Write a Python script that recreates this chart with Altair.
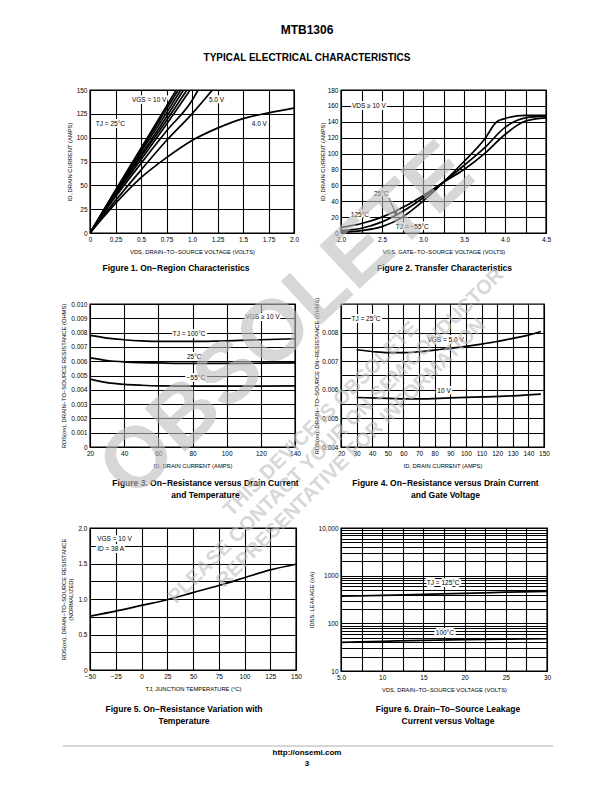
import altair as alt
import pandas as pd

FONT = "Liberation Sans, Arial, Helvetica, sans-serif"

header_title = "MTB1306"
header_sub = "TYPICAL ELECTRICAL CHARACTERISTICS"
footer_url = "http://onsemi.com"
footer_page = "3"
wm_big = "OBSOLETE"
wm_lines = ["THIS DEVICE IS OBSOLETE", "PLEASE CONTACT YOUR ON SEMICONDUCTOR",
            "REPRESENTATIVE FOR INFORMATION"]

# ---------------- Figure 1: On-Region Characteristics ----------------
f1_names = ["10 V", "9 V", "8 V", "7 V", "6.5 V", "6 V", "5.5 V", "5.0 V", "4.0 V"]
f1_vds_10 = [0, 0.25, 0.5, 0.75, 0.845]
f1_id_10 = [0, 45, 89, 133, 150]
f1_vds_9 = [0, 0.25, 0.5, 0.75, 0.865]
f1_id_9 = [0, 44, 87, 130, 150]
f1_vds_8 = [0, 0.25, 0.5, 0.75, 0.89]
f1_id_8 = [0, 43, 85, 126, 150]
f1_vds_7 = [0, 0.25, 0.5, 0.75, 0.917]
f1_id_7 = [0, 42, 82, 122, 150]
f1_vds_65 = [0, 0.25, 0.5, 0.75, 0.95]
f1_id_65 = [0, 41, 80, 118, 150]
f1_vds_6 = [0, 0.25, 0.5, 0.75, 0.982]
f1_id_6 = [0, 40, 77, 114, 150]
f1_vds_55 = [0, 0.25, 0.5, 0.75, 1.0, 1.06]
f1_id_55 = [0, 38, 73, 107, 139, 150]
f1_vds_5 = [0, 0.25, 0.5, 0.75, 1.0, 1.2]
f1_id_5 = [0, 34, 66, 97, 125, 150]
f1_vds_4 = [0, 0.25, 0.5, 0.75, 1.0, 1.25, 1.5, 1.75, 2.0]
f1_id_4 = [0, 31, 58, 79, 97, 110, 120, 126, 131]
f1_lab_text = ["VGS = 10 V", "5.0 V", "4.0 V", "TJ = 25°C"]
f1_lab_x = [0.58, 1.24, 1.66, 0.2]
f1_lab_y = [140, 140, 114, 114]

# ---------------- Figure 2: Transfer Characteristics ----------------
f2_names = ["TJ = -55°C", "25°C", "125°C"]
f2_vgs_m55 = [2.0, 2.25, 2.5, 2.75, 3.0, 3.25, 3.5, 3.75, 3.9, 4.0, 4.25, 4.5]
f2_id_m55 = [1, 3, 8, 20, 40, 64, 90, 118, 140, 144, 148, 148]
f2_vgs_25 = [2.0, 2.25, 2.5, 2.75, 3.0, 3.25, 3.5, 3.75, 4.0, 4.25, 4.5]
f2_id_25 = [3, 6, 14, 27, 44, 64, 85, 107, 133, 145, 147]
f2_vgs_125 = [2.0, 2.25, 2.5, 2.75, 3.0, 3.25, 3.5, 3.75, 4.0, 4.25, 4.5]
f2_id_125 = [7, 12, 20, 32, 47, 64, 80, 100, 124, 141, 145]
f2_lab_text = ["VDS ≥ 10 V", "25°C", "125°C", "TJ = −55°C"]
f2_lab_x = [2.34, 2.49, 2.23, 2.87]
f2_lab_y = [160, 49, 22.6, 7.5]
f2_arrow_x = [2.585, 2.665]
f2_arrow_y = [44, 25]

# ---------------- Figure 3: RDS(on) vs ID and temperature ----------------
f3_names = ["100°C", "25°C", "-55°C"]
f3_id = [20, 30, 40, 50, 60, 80, 100, 120, 140]
f3_r_100 = [0.0078, 0.00762, 0.0075, 0.00742, 0.00738, 0.00738, 0.00742, 0.0075, 0.00757]
f3_r_25 = [0.00623, 0.00605, 0.00595, 0.0059, 0.00588, 0.00585, 0.00585, 0.00586, 0.00588]
f3_r_m55 = [0.00475, 0.0045, 0.00438, 0.00432, 0.00428, 0.00426, 0.00426, 0.00426, 0.00427]
f3_lab_text = ["VGS ≥ 10 V", "TJ = 100°C", "25°C", "−55°C"]
f3_lab_x = [121, 78, 81, 82]
f3_lab_y = [0.0091, 0.0079, 0.0063, 0.0048]

# ---------------- Figure 4: RDS(on) vs ID and gate voltage ----------------
f4_names = ["VGS = 5.0 V", "10 V"]
f4_id_5 = [30, 40, 50, 60, 70, 80, 90, 100, 110, 120, 130, 140, 148]
f4_r_5 = [0.0074, 0.00734, 0.0073, 0.0073, 0.00733, 0.00739, 0.00745, 0.00752,
          0.0076, 0.00769, 0.0078, 0.00791, 0.00804]
f4_id_10 = [30, 50, 70, 90, 110, 130, 148]
f4_r_10 = [0.00573, 0.0057, 0.00568, 0.00572, 0.00575, 0.00579, 0.00585]
f4_lab_text = ["TJ = 25°C", "VGS = 5.0 V", "10 V"]
f4_lab_x = [36, 87, 86]
f4_lab_y = [0.00848, 0.00774, 0.00596]

# ---------------- Figure 5: RDS(on) vs temperature ----------------
f5_names = ["normalized"]
f5_t = [-50, -25, 0, 25, 50, 75, 100, 125, 150]
f5_r = [0.76, 0.83, 0.91, 0.99, 1.09, 1.19, 1.30, 1.41, 1.49]
f5_lab_text = ["VGS = 10 V", "ID = 38 A"]
f5_lab_x = [-43, -43]
f5_lab_y = [1.845, 1.70]

# ---------------- Figure 6: IDSS leakage ----------------
f6_names = ["TJ = 125°C", "100°C"]
f6_vds = [5, 10, 15, 20, 25, 30]
f6_i_125 = [370, 385, 405, 425, 450, 470]
f6_i_100 = [40, 42, 44, 45.5, 46.5, 47.5]
f6_lab_text = ["TJ = 125°C", "100°C"]
f6_lab_x = [17.4, 17.6]
f6_lab_y = [700, 63]


def mk(names, xs, ys):
    rows = []
    for n, xx, yy in zip(names, xs, ys):
        for a, b in zip(xx, yy):
            rows.append({"s": n, "x": a, "y": b})
    return pd.DataFrame(rows)


def mk_lab(texts, xs, ys):
    return pd.DataFrame({"t": texts, "x": xs, "y": ys})


def axis(title, values, expr=None, **kw):
    args = dict(title=title, values=values)
    if expr is not None:
        args["labelExpr"] = expr
    args.update(kw)
    return alt.Axis(**args)


def panel(df, lab, xs, ys, xax, yax, w, h, caption, cap_dx, cap_off, align="center", extra=None):
    xenc = alt.X("x:Q", scale=xs, axis=xax)
    yenc = alt.Y("y:Q", scale=ys, axis=yax)
    halo = alt.Chart(lab).mark_text(align=align, baseline="middle", font=FONT, fontSize=6.5,
                                    stroke="white", strokeWidth=4, fill="white",
                                    strokeJoin="round").encode(x=xenc, y=yenc, text="t:N")
    lines = alt.Chart(df).mark_line(color="black", strokeWidth=1.7, interpolate="monotone",
                                    clip=True).encode(x=xenc, y=yenc, detail="s:N")
    txt = alt.Chart(lab).mark_text(align=align, baseline="middle", font=FONT, fontSize=6.5,
                                   color="black").encode(x=xenc, y=yenc, text="t:N")
    layers = [halo, lines, txt]
    if extra is not None:
        layers += extra(xenc, yenc)
    return alt.layer(*layers).properties(
        width=w, height=h,
        title=alt.Title(caption, orient="bottom", anchor="middle", frame="group",
                        font=FONT, fontSize=8.5, fontWeight="bold", color="black",
                        dx=cap_dx, offset=cap_off, lineHeight=12),
        view=alt.ViewBackground(stroke="black", strokeWidth=1.4),
    )


# ----- Panel 1
p1_df = mk(f1_names,
           [f1_vds_10, f1_vds_9, f1_vds_8, f1_vds_7, f1_vds_65, f1_vds_6, f1_vds_55, f1_vds_5, f1_vds_4],
           [f1_id_10, f1_id_9, f1_id_8, f1_id_7, f1_id_65, f1_id_6, f1_id_55, f1_id_5, f1_id_4])
p1 = panel(
    p1_df, mk_lab(f1_lab_text, f1_lab_x, f1_lab_y),
    alt.Scale(domain=[0, 2], nice=False, zero=False),
    alt.Scale(domain=[0, 150], nice=False, zero=False),
    axis("VDS, DRAIN−TO−SOURCE VOLTAGE (VOLTS)", [i * 0.25 for i in range(9)],
         "datum.value == 0 ? '0' : (round(datum.value*100) % 50 == 0 ? format(datum.value, '.1f') : format(datum.value, '.2f'))"),
    axis("ID, DRAIN CURRENT (AMPS)", [i * 25 for i in range(7)]),
    204, 143, "Figure 1. On−Region Characteristics", -16, 10)

# ----- Panel 2
p2_df = mk(f2_names, [f2_vgs_m55, f2_vgs_25, f2_vgs_125], [f2_id_m55, f2_id_25, f2_id_125])


def p2_arrow(xenc, yenc):
    adf = pd.DataFrame({"x": [f2_arrow_x[0]], "y": [f2_arrow_y[0]],
                        "x2": [f2_arrow_x[1]], "y2": [f2_arrow_y[1]]})
    rule = alt.Chart(adf).mark_rule(color="black", strokeWidth=1).encode(
        x=xenc, y=yenc, x2="x2:Q", y2="y2:Q")
    hdf = pd.DataFrame({"x": [f2_arrow_x[1]], "y": [f2_arrow_y[1]]})
    head = alt.Chart(hdf).mark_point(shape="triangle", filled=True, color="black", size=22,
                                     angle=157, opacity=1).encode(x=xenc, y=yenc)
    return [rule, head]


p2 = panel(
    p2_df, mk_lab(f2_lab_text, f2_lab_x, f2_lab_y),
    alt.Scale(domain=[2, 4.5], nice=False, zero=False),
    alt.Scale(domain=[0, 180], nice=False, zero=False),
    axis("VGS, GATE−TO−SOURCE VOLTAGE (VOLTS)", [2 + i * 0.25 for i in range(11)],
         "round(datum.value*4) % 2 == 0 ? format(datum.value, '.1f') : ''"),
    axis("ID, DRAIN CURRENT (AMPS)", [i * 20 for i in range(10)], titlePadding=2),
    205, 143, "Figure 2. Transfer Characteristics", 1, 10, extra=p2_arrow)

# ----- Panel 3
p3_df = mk(f3_names, [f3_id, f3_id, f3_id], [f3_r_100, f3_r_25, f3_r_m55])
p3 = panel(
    p3_df, mk_lab(f3_lab_text, f3_lab_x, f3_lab_y),
    alt.Scale(domain=[20, 140], nice=False, zero=False),
    alt.Scale(domain=[0, 0.010], nice=False, zero=False),
    axis("ID, DRAIN CURRENT (AMPS)", [20 + i * 20 for i in range(7)]),
    axis("RDS(on), DRAIN−TO−SOURCE RESISTANCE (OHMS)", [i * 0.001 for i in range(11)],
         "datum.value == 0 ? '0' : format(datum.value, '.3f')"),
    205, 143, ["Figure 3. On−Resistance versus Drain Current", "and Temperature"], 13, 11)

# ----- Panel 4
p4_df = mk(f4_names, [f4_id_5, f4_id_10], [f4_r_5, f4_r_10])
p4 = panel(
    p4_df, mk_lab(f4_lab_text, f4_lab_x, f4_lab_y),
    alt.Scale(domain=[20, 150], nice=False, zero=False),
    alt.Scale(domain=[0.004, 0.009], nice=False, zero=False),
    axis("ID, DRAIN CURRENT (AMPS)", [20 + i * 10 for i in range(14)]),
    axis("RDS(on), DRAIN−TO−SOURCE ON−RESISTANCE (OHMS)", [0.004 + i * 0.0005 for i in range(11)],
         "round(datum.value*10000) % 10 == 0 ? format(datum.value, '.3f') : ''", titlePadding=2),
    203, 143, ["Figure 4. On−Resistance versus Drain Current", "and Gate Voltage"], 3, 11)

# ----- Panel 5
p5_df = mk(f5_names, [f5_t], [f5_r])
p5 = panel(
    p5_df, mk_lab(f5_lab_text, f5_lab_x, f5_lab_y),
    alt.Scale(domain=[-50, 150], nice=False, zero=False),
    alt.Scale(domain=[0, 2], nice=False, zero=False),
    axis("TJ, JUNCTION TEMPERATURE (°C)", [-50 + i * 25 for i in range(9)]),
    axis(["RDS(on), DRAIN−TO−SOURCE RESISTANCE", "(NORMALIZED)"], [i * 0.25 for i in range(9)],
         "datum.value == 0 ? '0' : (round(datum.value*4) % 2 == 0 ? format(datum.value, '.1f') : '')"),
    206, 142, ["Figure 5. On−Resistance Variation with", "Temperature"], -9, 14, align="left")

# ----- Panel 6
f6_grid = [m * 10 ** k for k in range(1, 4) for m in range(1, 10)] + [10000]
p6_df = mk(f6_names, [f6_vds, f6_vds], [f6_i_125, f6_i_100])
p6 = panel(
    p6_df, mk_lab(f6_lab_text, f6_lab_x, f6_lab_y),
    alt.Scale(domain=[5, 30], nice=False, zero=False),
    alt.Scale(type="log", domain=[10, 10000], nice=False),
    axis("VDS, DRAIN−TO−SOURCE VOLTAGE (VOLTS)", [5 + i * 2.5 for i in range(11)],
         "datum.value == 5 ? '5.0' : (datum.value % 5 == 0 ? format(datum.value, 'd') : '')"),
    axis("IDSS, LEAKAGE (nA)", f6_grid,
         "datum.value == 10000 ? '10,000' : ((datum.value == 10 || datum.value == 100 || datum.value == 1000) ? format(datum.value, 'd') : '')"),
    206, 143, ["Figure 6. Drain−To−Source Leakage", "Current versus Voltage"], 4, 13)

one = pd.DataFrame({"t": [""]})


def spacer(w, h):
    return alt.Chart(one).mark_point(opacity=0, size=1).encode(
        x=alt.value(0), y=alt.value(0)).properties(width=w, height=h)


def text_at(t, x, y, size, bold=True, color="black", angle=None, opacity=1):
    kw = dict(font=FONT, fontSize=size, fontWeight="bold" if bold else "normal",
              color=color, align="center", baseline="middle", opacity=opacity)
    if angle is not None:
        kw["angle"] = angle
    return alt.Chart(pd.DataFrame({"t": [t]})).mark_text(**kw).encode(
        x=alt.value(x), y=alt.value(y), text="t:N")


# header cell: origin at page (8, 8)
header = alt.layer(
    text_at(header_title, 298, 21, 12),
    text_at(header_sub, 298, 49, 10),
).properties(width=36, height=10)

# footer cell: origin at page (8, 741)
WM = "#bdbdbd"
footer = alt.layer(
    alt.Chart(one).mark_rule(color="#999999", strokeWidth=0.8).encode(
        x=alt.value(54), x2=alt.value(544), y=alt.value(4)),
    text_at(footer_url, 298, 11, 8),
    text_at(footer_page, 298, 22, 8),
    text_at(wm_big, 278, -421, 86, color=WM, angle=317, opacity=0.6),
    text_at(wm_lines[0], 312, -323, 20, color=WM, angle=315, opacity=0.6),
    text_at(wm_lines[1], 327, -306, 20, color=WM, angle=315, opacity=0.6),
    text_at(wm_lines[2], 342, -289, 20, color=WM, angle=315, opacity=0.6),
).properties(width=36, height=10)

cells = [
    header, spacer(10, 10), spacer(10, 10),
    spacer(36, 143), p1, p2,
    spacer(36, 153), p3, p4,
    spacer(36, 143), p5, p6,
    footer,
]

chart = alt.concat(
    *cells, columns=3, spacing={"row": 71, "column": 45}, bounds="flush",
    padding=0, background="white",
).configure_view(stroke="transparent").configure_axis(
    labelFont=FONT, labelFontSize=6.5, labelColor="black",
    titleFont=FONT, titleFontSize=5.8, titleFontWeight="normal", titleColor="black",
    ticks=False, domain=False, grid=True, gridColor="black", gridWidth=1.1, gridOpacity=1,
    labelPadding=3, labelFlush=False, labelOverlap=False, labelBound=False,
).configure_axisX(titlePadding=6).configure_axisY(titlePadding=4)

chart.save("out.html", embed_options={"renderer": "svg", "actions": False})
